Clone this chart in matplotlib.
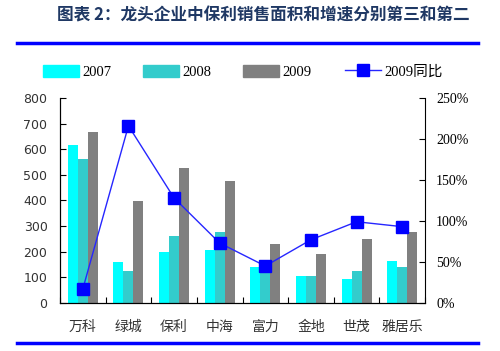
import numpy as np
import matplotlib
matplotlib.use("Agg")
import matplotlib.pyplot as plt
from matplotlib.lines import Line2D
from matplotlib.patches import Patch

plt.rcParams['font.family'] = ['Noto Sans CJK SC', 'DejaVu Sans']

companies = ['万科', '绿城', '保利', '中海', '富力', '金地', '世茂', '雅居乐']
area_2007 = [615, 160, 200, 205, 140, 105, 95, 165]
area_2008 = [562, 125, 260, 275, 130, 105, 125, 140]
area_2009 = [668, 398, 528, 475, 230, 192, 248, 275]
growth_2009 = [17, 216, 128, 73, 45, 77, 99, 93]  # percent

c07, c08, c09 = '#00FFFF', '#33CCCC', '#808080'
blue = '#0000FF'

fig = plt.figure(figsize=(5, 3.51), dpi=100)
ax = fig.add_axes([0.12, 0.137, 0.73, 0.584])
ax2 = ax.twinx()

x = np.arange(len(companies))
w = 0.22
ax.bar(x - w, area_2007, w, color=c07, zorder=2)
ax.bar(x, area_2008, w, color=c08, zorder=2)
ax.bar(x + w, area_2009, w, color=c09, zorder=2)

ax2.plot(x, growth_2009, color='#2626FF', lw=1.0, marker='s', ms=9,
         mfc=blue, mec=blue, zorder=3)

ax.set_xlim(-0.5, len(companies) - 0.5)
ax.set_ylim(0, 800)
ax.set_yticks(range(0, 801, 100))
ax2.set_ylim(0, 250)
ax2.set_yticks(range(0, 251, 50))
ax2.set_yticklabels([f'{v}%' for v in range(0, 251, 50)],
                    family='Liberation Serif', fontsize=10)

ax.set_xticks(np.arange(-0.5, len(companies), 1))
ax.set_xticklabels([])
ax.set_xticks(x, minor=True)
ax.set_xticklabels(companies, minor=True, fontsize=10, color='#333333')
ax.tick_params(axis='x', which='major', direction='in', length=4)
ax.tick_params(axis='x', which='minor', length=0, pad=12)
ax.tick_params(axis='y', direction='in', length=4, labelsize=9, pad=9)
for lab in ax.get_yticklabels():
    lab.set_family('DejaVu Sans')
    lab.set_color('#333333')
ax2.tick_params(axis='y', direction='in', length=4, pad=8)

for a in (ax, ax2):
    a.spines['top'].set_visible(False)
ax.spines['right'].set_visible(False)

# title and rules
fig.text(0.114, 0.955, '图表 2：龙头企业中保利销售面积和增速分别第三和第二',
         fontsize=12, fontweight='bold', color='#1F3864', va='center')
fig.add_artist(Line2D([0.034, 0.956], [0.878, 0.878], color=blue, lw=2.5))
fig.add_artist(Line2D([0.034, 0.956], [0.023, 0.023], color=blue, lw=2.5))

# legend entries placed one by one
handles = [Patch(color=c07), Patch(color=c08), Patch(color=c09),
           Line2D([], [], color='#2626FF', lw=1.0, marker='s', ms=9,
                  mfc=blue, mec=blue)]
labels = ['2007', '2008', '2009', '2009同比']
lx = [0.086, 0.286, 0.486, 0.69]
for h, l, x0 in zip(handles, labels, lx):
    lg = fig.legend([h], [l], loc='center left', bbox_to_anchor=(x0, 0.795),
                    frameon=False, borderpad=0, borderaxespad=0,
                    handlelength=2.45, handleheight=0.9, handletextpad=0.25,
                    prop={'family': ['Liberation Serif', 'Noto Sans CJK SC'],
                          'size': 10.5})

fig.savefig('out.png', dpi=100)
